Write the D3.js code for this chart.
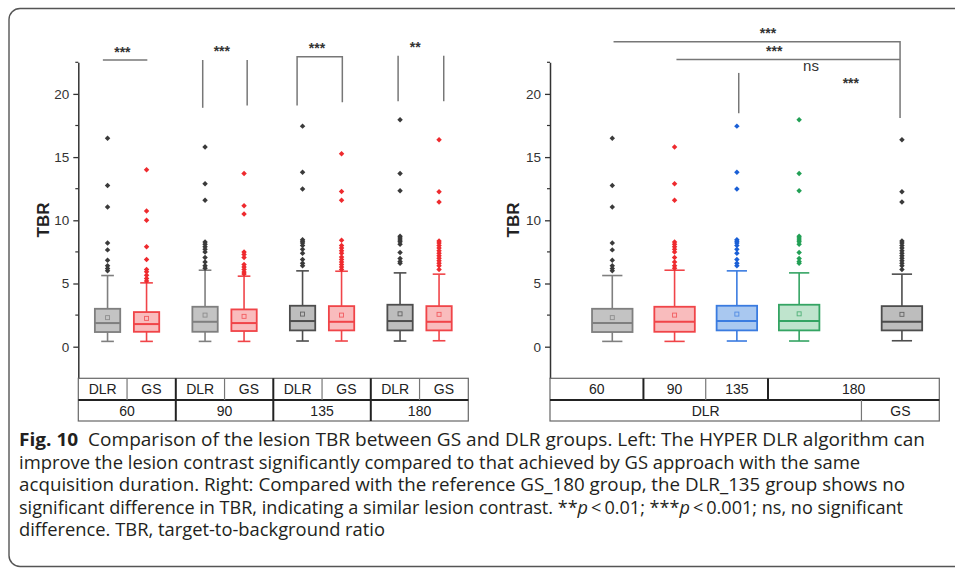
<!DOCTYPE html>
<html>
<head>
<meta charset="utf-8">
<script src="https://cdn.jsdelivr.net/npm/d3@7"></script>
<style>
body { margin: 0; background: #fff; }
text { font-family: "Liberation Sans", Arial, sans-serif; }
.caption { font-family: "Open Sans", "Noto Sans", sans-serif; font-size: 18px; fill: #231f20; }
</style>
</head>
<body>
<div id="chart"></div>
<script>
var svgWidth = 955;
var svgHeight = 569;

// box stats: [whisker low, q1, median, q3, whisker high, mean]
var statsDLR60 = [0.42, 1.16, 1.87, 3.0, 5.63, 2.3];
var statsGS60 = [0.42, 1.18, 1.79, 2.74, 5.05, 2.24];
var statsDLR90 = [0.42, 1.18, 1.97, 3.16, 6.05, 2.5];
var statsGS90 = [0.42, 1.24, 1.87, 2.95, 5.58, 2.4];
var statsDLR135 = [0.45, 1.29, 2.03, 3.24, 6.0, 2.58];
var statsGS135 = [0.45, 1.29, 1.97, 3.21, 5.97, 2.5];
var statsDLR180 = [0.45, 1.29, 2.03, 3.32, 5.84, 2.6];
var statsGS180 = [0.47, 1.29, 1.97, 3.21, 5.74, 2.56];

// outliers
var outDLR60 = [16.5, 12.76, 11.05, 8.2, 7.66, 6.84, 6.4, 6.19, 6.0];
var outGS60 = [14.0, 10.74, 10.0, 7.9, 6.9, 6.1, 5.92, 5.66, 5.4, 5.2];
var outDLR90 = [15.8, 12.9, 11.58, 8.29, 8.1, 7.9, 7.7, 7.5, 7.05, 6.7, 6.4, 6.2];
var outGS90 = [13.7, 11.16, 10.5, 7.5, 7.3, 7.05, 6.5, 6.3, 6.1, 5.9, 5.75];
var outDLR135 = [17.45, 13.8, 12.47, 8.47, 8.35, 8.2, 8.0, 7.7, 7.4, 6.9, 6.6, 6.4];
var outGS135 = [15.27, 12.28, 11.58, 8.42, 8.0, 7.8, 7.6, 7.4, 7.1, 6.9, 6.7, 6.5, 6.3, 6.1];
var outDLR180 = [17.95, 13.7, 12.34, 8.74, 8.6, 8.45, 8.3, 8.1, 7.45, 6.98, 6.75, 6.6];
var outGS180 = [16.37, 12.25, 11.44, 8.37, 8.2, 8.0, 7.8, 7.6, 7.4, 7.2, 7.0, 6.8, 6.6, 6.4, 6.1];

// left panel categories
var leftMethods = ['DLR', 'GS', 'DLR', 'GS', 'DLR', 'GS', 'DLR', 'GS'];
var leftTimes = ['60', '90', '135', '180'];
var leftPos = [1, 2, 3.5, 4.5, 6, 7, 8.5, 9.5];
var leftStats = [statsDLR60, statsGS60, statsDLR90, statsGS90, statsDLR135, statsGS135, statsDLR180, statsGS180];
var leftOut = [outDLR60, outGS60, outDLR90, outGS90, outDLR135, outGS135, outDLR180, outGS180];
var leftColor = ['grayLight', 'red', 'grayLight', 'red', 'gray', 'red', 'gray', 'red'];

// right panel categories
var rightTimes = ['60', '90', '135', '180'];
var rightMethods = ['DLR', 'GS'];
var rightPos = [1, 2, 3, 4, 5.65];
var rightStats = [statsDLR60, statsDLR90, statsDLR135, statsDLR180, statsGS180];
var rightOut = [outDLR60, outDLR90, outDLR135, outDLR180, outGS180];
var rightColor = ['grayLight', 'red', 'blue', 'green', 'gray'];

var yTicks = [0, 5, 10, 15, 20];
var yMinor = [2.5, 7.5, 12.5, 17.5, 22.5];

// significance: [label, x, y] and bracket paths as lists of [x, y] in data units
var leftSigLabels = [['***', 1.38, 23.55], ['***', 3.93, 23.6], ['***', 6.37, 23.87], ['**', 8.89, 23.95]];
var leftSigLines = [
    [[0.88, 22.68], [2.02, 22.68]],
    [[3.44, 22.68], [3.44, 18.9]],
    [[4.58, 22.68], [4.58, 19.08]],
    [[5.86, 19.08], [5.86, 22.94], [7.02, 22.94], [7.02, 19.34]],
    [[8.45, 23.02], [8.45, 19.42]],
    [[9.62, 23.02], [9.62, 19.42]]
];
var rightSigLabels = [['***', 3.5, 25.05], ['***', 3.6, 23.6], ['***', 4.83, 21.13]];
var rightSigLines = [
    [[1.02, 24.13], [5.62, 24.13], [5.62, 18.1]],
    [[2.03, 22.73], [5.62, 22.73]],
    [[3.03, 21.66], [3.03, 18.47]]
];
var rightNs = ['ns', 4.19, 22.15];

var captionLines = [
    [['Fig. 10', 'b'], ['  Comparison of the lesion TBR between GS and DLR groups. Left: The HYPER DLR algorithm can', '']],
    [['improve the lesion contrast significantly compared to that achieved by GS approach with the same', '']],
    [['acquisition duration. Right: Compared with the reference GS_180 group, the DLR_135 group shows no', '']],
    [['significant difference in TBR, indicating a similar lesion contrast. **', ''], ['p', 'i'], ['\u2009<\u20090.01; ***', ''], ['p', 'i'], ['\u2009<\u20090.001; ns, no significant', '']],
    [['difference. TBR, target-to-background ratio', '']]
];
var captionWidths = [906, 841, 886, 884, 366];

var palette = {
    gray: { stroke: '#4d4d4d', fill: '#bdbdbd', dot: '#3a3a3a' },
    grayLight: { stroke: '#7f7f7f', fill: '#c3c3c3', dot: '#3a3a3a' },
    red: { stroke: '#f04448', fill: '#f9bcbd', dot: '#ee2a2e' },
    blue: { stroke: '#3a7be0', fill: '#a9c8f0', dot: '#1a5fd6' },
    green: { stroke: '#34a463', fill: '#bfe4cd', dot: '#22a055' }
};

var svg = d3.select('#chart').append('svg')
    .attr('width', svgWidth)
    .attr('height', svgHeight);

// frame
svg.append('rect')
    .attr('x', 9).attr('y', 8.5)
    .attr('width', 1000).attr('height', 558)
    .attr('rx', 11)
    .attr('fill', 'none')
    .attr('stroke', '#555')
    .attr('stroke-width', 1.4);

var yScale = d3.scaleLinear().domain([-2.5, 22.5]).range([378.3, 62.3]);
var xLeft = d3.scaleLinear().domain([0.25, 10.25]).range([78.3, 468.3]);
var xRight = d3.scaleLinear().domain([0, 6.25]).range([550, 939.3]);

function drawAxis(x0) {
    var g = svg.append('g').attr('transform', `translate(${x0},0)`);
    g.call(d3.axisLeft(yScale).tickValues(yTicks).tickSize(5).tickSizeOuter(0).tickPadding(4));
    g.select('.domain').attr('stroke', '#333').attr('stroke-width', 1.5);
    g.selectAll('.tick line').attr('stroke', '#333').attr('stroke-width', 1.3);
    g.selectAll('.tick text').attr('font-size', 13.5).attr('fill', '#333')
        .style('font-family', '"Liberation Sans", Arial, sans-serif');
    g.selectAll('.minor').data(yMinor).enter().append('line')
        .attr('x1', -3).attr('x2', 0)
        .attr('y1', d => yScale(d)).attr('y2', d => yScale(d))
        .attr('stroke', '#333').attr('stroke-width', 1.2);
}

function drawBoxes(x, pos, stats, outs, colors) {
    var g = svg.append('g');
    pos.forEach(function(p, i) {
        var s = stats[i];
        var c = palette[colors[i]];
        var cx = x(p);
        var hw = x(p + 0.325) - cx;
        var cap = hw / 2;
        // whiskers
        g.append('line').attr('x1', cx).attr('x2', cx)
            .attr('y1', yScale(s[0])).attr('y2', yScale(s[1]))
            .attr('stroke', c.stroke).attr('stroke-width', 1.6);
        g.append('line').attr('x1', cx).attr('x2', cx)
            .attr('y1', yScale(s[3])).attr('y2', yScale(s[4]))
            .attr('stroke', c.stroke).attr('stroke-width', 1.6);
        [s[0], s[4]].forEach(function(v) {
            g.append('line').attr('x1', cx - cap).attr('x2', cx + cap)
                .attr('y1', yScale(v)).attr('y2', yScale(v))
                .attr('stroke', c.stroke).attr('stroke-width', 1.6);
        });
        // box
        g.append('rect')
            .attr('x', cx - hw).attr('width', hw * 2)
            .attr('y', yScale(s[3])).attr('height', yScale(s[1]) - yScale(s[3]))
            .attr('fill', c.fill).attr('stroke', c.stroke).attr('stroke-width', 1.8);
        g.append('line').attr('x1', cx - hw).attr('x2', cx + hw)
            .attr('y1', yScale(s[2])).attr('y2', yScale(s[2]))
            .attr('stroke', c.stroke).attr('stroke-width', 2);
        g.append('rect')
            .attr('x', cx - 2).attr('y', yScale(s[5]) - 2)
            .attr('width', 4).attr('height', 4)
            .attr('fill', 'none').attr('stroke', c.stroke).attr('stroke-width', 0.9)
            .attr('opacity', 0.8);
        // outliers
        g.selectAll(null).data(outs[i]).enter().append('path')
            .attr('d', d3.symbol().type(d3.symbolSquare).size(15))
            .attr('transform', d => `translate(${cx},${yScale(d)}) rotate(45)`)
            .attr('fill', c.dot);
    });
}

function drawTableRow(x, y0, y1, bounds, labels, thick) {
    var g = svg.append('g');
    labels.forEach(function(lab, i) {
        g.append('text')
            .attr('x', (x(bounds[i]) + x(bounds[i + 1])) / 2)
            .attr('y', (y0 + y1) / 2 + 5)
            .attr('text-anchor', 'middle')
            .attr('font-size', 14)
            .attr('fill', '#222')
            .text(lab);
    });
    bounds.slice(1, -1).forEach(function(b, i) {
        g.append('line')
            .attr('x1', x(b)).attr('x2', x(b))
            .attr('y1', y0).attr('y2', y1)
            .attr('stroke', thick[i] ? '#222' : '#777')
            .attr('stroke-width', thick[i] ? 2 : 1.2);
    });
}

function drawTableFrame(x, d0, d1) {
    svg.append('rect')
        .attr('x', x(d0)).attr('y', 378.3)
        .attr('width', x(d1) - x(d0)).attr('height', 421 - 378.3)
        .attr('fill', 'none').attr('stroke', '#666').attr('stroke-width', 1.2);
    svg.append('line')
        .attr('x1', x(d0)).attr('x2', x(d1))
        .attr('y1', 400).attr('y2', 400)
        .attr('stroke', '#222').attr('stroke-width', 2);
}

function drawSig(x, labels, lines) {
    var g = svg.append('g');
    var line = d3.line().x(d => x(d[0])).y(d => yScale(d[1]));
    lines.forEach(function(l) {
        g.append('path').attr('d', line(l))
            .attr('fill', 'none').attr('stroke', '#777').attr('stroke-width', 1.5);
    });
    labels.forEach(function(l) {
        g.append('text')
            .attr('x', x(l[1])).attr('y', yScale(l[2]) + 8)
            .attr('text-anchor', 'middle')
            .attr('font-size', 14)
            .attr('font-weight', 'bold')
            .attr('fill', '#333')
            .text(l[0]);
    });
}

// left panel
drawAxis(xLeft(0.25));
drawBoxes(xLeft, leftPos, leftStats, leftOut, leftColor);
var leftCols = d3.range(9).map(i => 0.25 + i * 1.25);
drawTableFrame(xLeft, 0.25, 10.25);
drawTableRow(xLeft, 378.3, 400, leftCols, leftMethods, [0, 1, 0, 1, 0, 1, 0]);
drawTableRow(xLeft, 400, 421, leftCols.filter((d, i) => i % 2 === 0), leftTimes, [1, 1, 1]);
drawSig(xLeft, leftSigLabels, leftSigLines);

// right panel
drawAxis(xRight(0));
drawBoxes(xRight, rightPos, rightStats, rightOut, rightColor);
drawTableFrame(xRight, 0, 6.25);
drawTableRow(xRight, 378.3, 400, [0, 1.5, 2.5, 3.5, 6.25], rightTimes, [1, 0, 1]);
drawTableRow(xRight, 400, 421, [0, 5.0, 6.25], rightMethods, [0]);
drawSig(xRight, rightSigLabels, rightSigLines);
svg.append('text')
    .attr('x', xRight(rightNs[1])).attr('y', yScale(rightNs[2]) + 4)
    .attr('text-anchor', 'middle').attr('font-size', 15).attr('fill', '#333')
    .text(rightNs[0]);

// y labels
[42, 512].forEach(function(xp) {
    svg.append('text')
        .attr('transform', `translate(${xp + 7},220) rotate(-90)`)
        .attr('text-anchor', 'middle')
        .attr('font-size', 17)
        .attr('font-weight', 'bold')
        .attr('fill', '#222')
        .text('TBR');
});

// caption
var baselines = [446, 468.5, 491, 513.5, 536];
captionLines.forEach(function(parts, i) {
    var t = svg.append('text')
        .attr('class', 'caption')
        .attr('x', 19).attr('y', baselines[i])
        .attr('textLength', captionWidths[i])
        .attr('lengthAdjust', 'spacingAndGlyphs')
        .attr('xml:space', 'preserve');
    parts.forEach(function(p) {
        var ts = t.append('tspan').text(p[0]);
        if (p[1] === 'b') ts.attr('font-weight', 'bold');
        if (p[1] === 'i') ts.attr('font-style', 'italic');
    });
});
</script>
</body>
</html>
